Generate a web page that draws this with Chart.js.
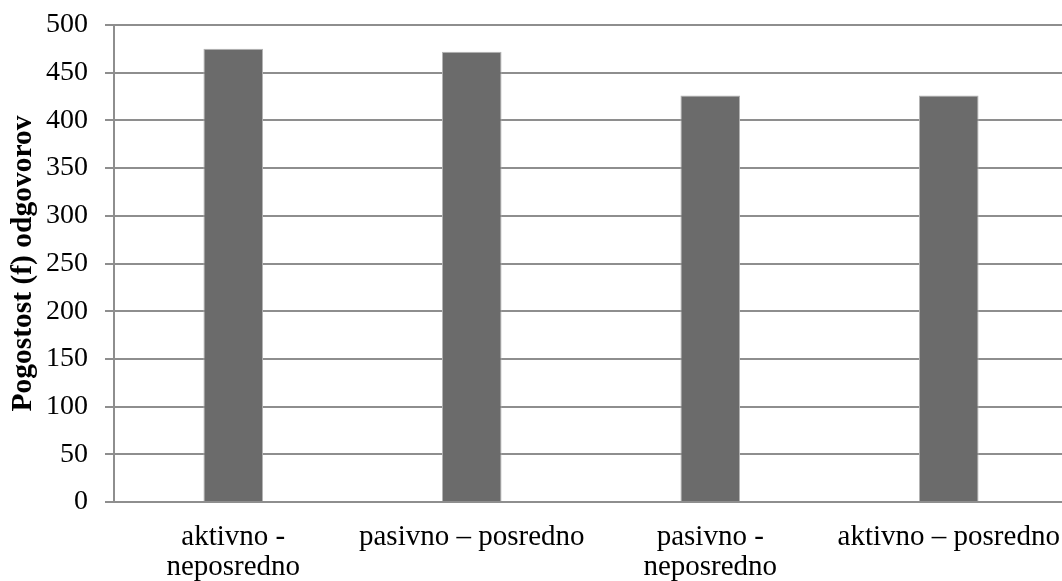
<!DOCTYPE html>
<html lang="sl">
<head>
    <meta charset="UTF-8">
    <title>Pogostost odgovorov</title>
    <script src="https://cdn.jsdelivr.net/npm/chart.js"></script>
    <style>
        body { margin: 0; background: #fff; overflow: hidden; }
        .wrap { width: 1070px; height: 581px; position: relative; }
    </style>
</head>
<body>
    <div class="wrap"><canvas id="bars"></canvas></div>

    <script>
        // data
        const categories = [
            ["aktivno -", "neposredno"],
            "pasivno \u2013 posredno",
            ["pasivno -", "neposredno"],
            "aktivno \u2013 posredno"
        ];
        const counts = [475, 472, 426, 426];
        const yTicks = [0, 50, 100, 150, 200, 250, 300, 350, 400, 450, 500];

        const serif = "'Liberation Serif', 'Times New Roman', serif";

        new Chart(document.getElementById("bars"), {
            type: "bar",
            data: {
                labels: categories,
                datasets: [{
                    data: counts,
                    backgroundColor: "#6b6b6b",
                    borderColor: "#b4b4b4",
                    borderWidth: 1,
                    categoryPercentage: 1,
                    barPercentage: 0.25
                }]
            },
            options: {
                responsive: true,
                maintainAspectRatio: false,
                animation: false,
                layout: { padding: { left: 4, top: 25, right: 2, bottom: 0 } },
                plugins: { legend: { display: false }, tooltip: { enabled: false } },
                scales: {
                    x: {
                        grid: { display: false },
                        border: { display: true, color: "#8e8e8e", width: 2 },
                        ticks: {
                            color: "#000",
                            font: { family: serif, size: 29, lineHeight: 1.05 },
                            maxRotation: 0,
                            autoSkip: false,
                            padding: 12
                        },
                        // fixed axis box so the plot area sits where the original's does
                        afterFit: (axis) => {
                            axis.height = 79;
                            axis.paddingLeft = 0;
                            axis.paddingRight = 0;
                        }
                    },
                    y: {
                        min: 0,
                        max: 500,
                        afterBuildTicks: (axis) => { axis.ticks = yTicks.map(v => ({ value: v })); },
                        grid: { color: "#8e8e8e", lineWidth: 2, tickLength: 9 },
                        border: { display: true, color: "#8e8e8e", width: 2 },
                        ticks: {
                            color: "#000",
                            font: { family: serif, size: 28 },
                            padding: 17
                        },
                        title: {
                            display: true,
                            text: "Pogostost (f) odgovorov",
                            color: "#000",
                            font: { family: serif, size: 29.5, weight: "bold" },
                            padding: { top: 2, bottom: 5 }
                        },
                        afterFit: (axis) => {
                            axis.width = 110;
                            axis.paddingTop = 0;
                            axis.paddingBottom = 0;
                        }
                    }
                }
            }
        });
    </script>
</body>
</html>
